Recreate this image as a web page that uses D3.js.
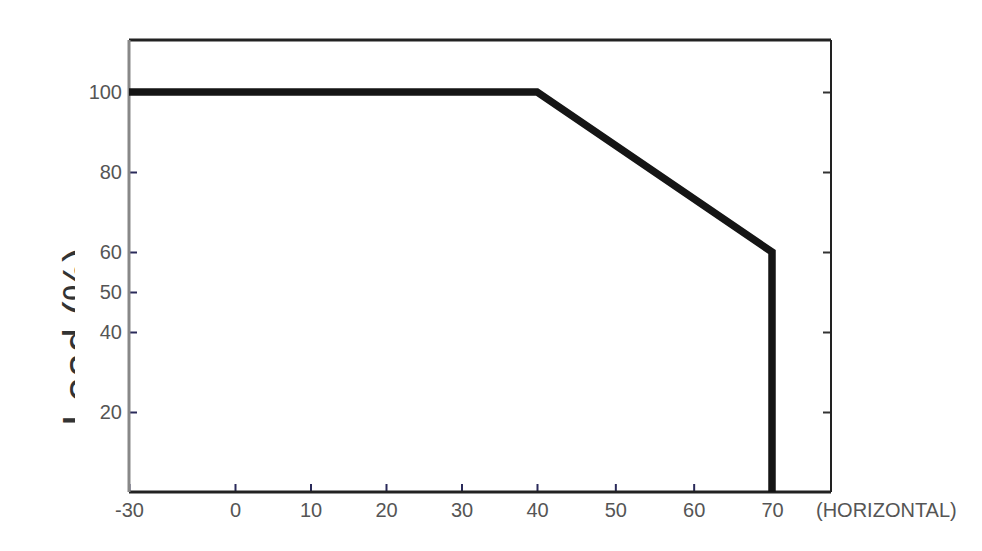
<!DOCTYPE html>
<html>
<head>
<meta charset="utf-8">
<script src="https://cdn.jsdelivr.net/npm/d3@7"></script>
<style>
  html, body { margin: 0; padding: 0; background: #fff; }
  svg { display: block; }
  .tick text { font-family: "Liberation Sans", Arial, sans-serif; font-size: 20px; fill: #555; }
</style>
</head>
<body>
<svg id="chart"></svg>
<script>
// derating curve: temperature vs load
const tempPoints = [-30, 40, 70, 70];
const loadPoints = [100, 100, 60, 0];

const xTicks = [-30, 0, 10, 20, 30, 40, 50, 60, 70];
const yTicksLeft = [20, 40, 50, 60, 80, 100];
const yTicksRight = [20, 40, 60, 80, 100];
const yTitle = "Load (%)";
const xNote = "(HORIZONTAL)";

const width = 982;
const height = 551;
const margin = { top: 40, right: 151, bottom: 59, left: 129 };
const w = width - margin.left - margin.right;
const h = height - margin.top - margin.bottom;

const svg = d3.select("#chart")
  .attr("width", width)
  .attr("height", height);

// x axis is not evenly spaced in the original, so use a piecewise scale
const x = d3.scaleLinear()
  .domain([-30, 0, 40, 70, 78])
  .range([0, 106, 408, 643, w]);

const y = d3.scaleLinear()
  .domain([0, 113])
  .range([h, 0]);

const g = svg.append("g")
  .attr("transform", "translate(" + margin.left + "," + margin.top + ")");

// bottom axis
g.append("g")
  .attr("transform", "translate(0," + h + ")")
  .call(d3.axisBottom(x).tickValues(xTicks).tickSize(-8).tickPadding(11).tickFormat(d => String(d)))
  .call(a => a.select(".domain").remove())
  .call(a => a.selectAll(".tick line").attr("stroke", "#2a2a5a").attr("stroke-width", 2));

// left axis
g.append("g")
  .call(d3.axisLeft(y).tickValues(yTicksLeft).tickSize(-8).tickPadding(7))
  .call(a => a.select(".domain").remove())
  .call(a => a.selectAll(".tick line").attr("stroke", "#2a2a5a").attr("stroke-width", 2));

// right axis, ticks only
g.append("g")
  .attr("transform", "translate(" + w + ",0)")
  .call(d3.axisRight(y).tickValues(yTicksRight).tickSize(-8).tickFormat(""))
  .call(a => a.select(".domain").remove())
  .call(a => a.selectAll(".tick line").attr("stroke", "#333").attr("stroke-width", 2));

// frame
g.append("line").attr("x1", 0).attr("x2", w).attr("y1", 0).attr("y2", 0)
  .attr("stroke", "#222").attr("stroke-width", 3);
g.append("line").attr("x1", 0).attr("x2", w).attr("y1", h).attr("y2", h)
  .attr("stroke", "#222").attr("stroke-width", 3);
g.append("line").attr("x1", w).attr("x2", w).attr("y1", 0).attr("y2", h)
  .attr("stroke", "#222").attr("stroke-width", 2);
g.append("line").attr("x1", 0).attr("x2", 0).attr("y1", 0).attr("y2", h)
  .attr("stroke", "#888").attr("stroke-width", 3);

// the curve
const line = d3.line()
  .x(d => x(d[0]))
  .y(d => y(d[1]));

g.append("path")
  .datum(tempPoints.map((t, i) => [t, loadPoints[i]]))
  .attr("fill", "none")
  .attr("stroke", "#151515")
  .attr("stroke-width", 7.5)
  .attr("stroke-linejoin", "miter")
  .attr("d", line);

// note after the x axis
g.append("text")
  .attr("x", w - 15)
  .attr("y", h + 25)
  .attr("font-family", "Liberation Sans, Arial, sans-serif")
  .attr("font-size", 20)
  .attr("fill", "#555")
  .text(xNote);

// y title, only a strip of it shows in the original
svg.append("clipPath")
  .attr("id", "titleClip")
  .append("rect")
  .attr("x", 59).attr("y", 0).attr("width", 16).attr("height", height);

svg.append("g")
  .attr("clip-path", "url(#titleClip)")
  .append("text")
  .attr("transform", "translate(94,426) rotate(-90)")
  .attr("font-family", "Liberation Sans, Arial, sans-serif")
  .attr("font-size", 44)
  .attr("fill", "#333")
  .text(yTitle);
</script>
</body>
</html>
